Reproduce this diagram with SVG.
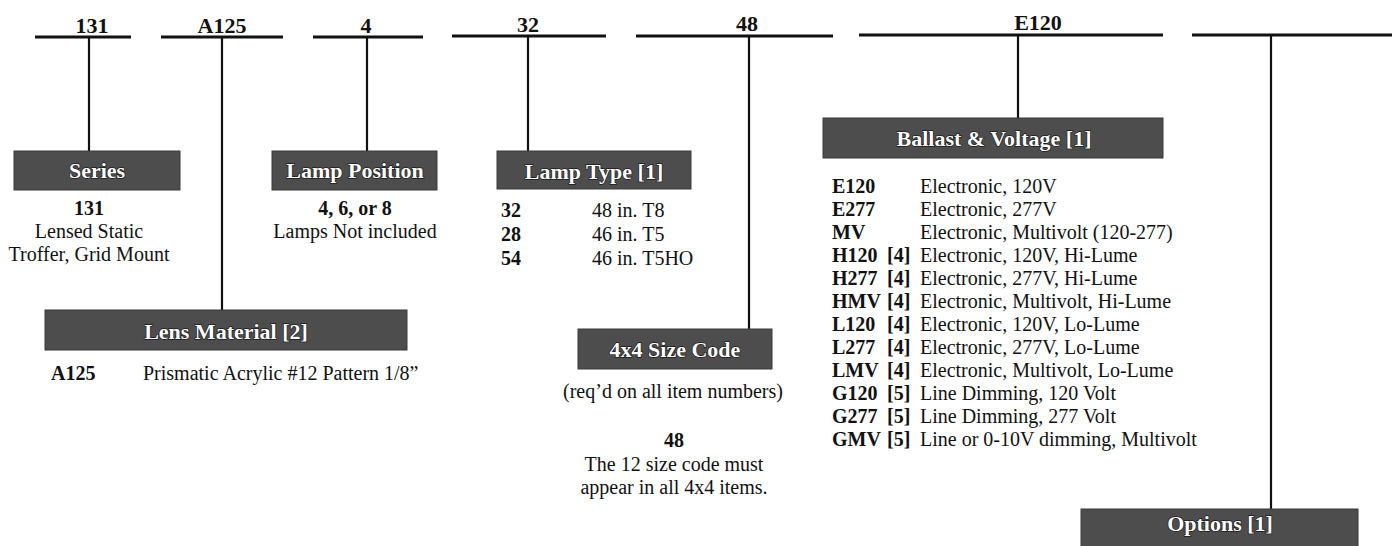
<svg xmlns="http://www.w3.org/2000/svg" width="1392" height="546" viewBox="0 0 1392 546">
<style>
text{font-family:"Liberation Serif","Times New Roman",serif;fill:#111}
.top{font-size:22px;font-weight:bold;text-anchor:middle}
.b{font-weight:bold}
.body{font-size:20px}
.c{text-anchor:middle}
.hd{font-size:22px;font-weight:bold;fill:#fff;text-anchor:middle;stroke:#1a1a1a;stroke-width:1.4px;paint-order:stroke}
.box{fill:#4d4d4d;stroke:#3a3a3a;stroke-width:1}
.h{stroke:#111;stroke-width:3}
.v{stroke:#111;stroke-width:2.2}
</style>
<rect width="1392" height="546" fill="#fff"/>
<g id="connectors">
<line class="h" x1="35" y1="37" x2="131" y2="37"/>
<line class="v" x1="89" y1="37" x2="89" y2="151"/>
<line class="h" x1="161" y1="37" x2="283" y2="37"/>
<line class="v" x1="222" y1="37" x2="222" y2="310"/>
<line class="h" x1="313" y1="37" x2="423" y2="37"/>
<line class="v" x1="367" y1="37" x2="367" y2="151"/>
<line class="h" x1="452" y1="36" x2="606" y2="36"/>
<line class="v" x1="528" y1="36" x2="528" y2="151"/>
<line class="h" x1="636" y1="36" x2="833" y2="36"/>
<line class="v" x1="749" y1="36" x2="749" y2="329"/>
<line class="h" x1="859" y1="35" x2="1163" y2="35"/>
<line class="v" x1="1018" y1="35" x2="1018" y2="118"/>
<line class="h" x1="1192" y1="35" x2="1392" y2="35"/>
<line class="v" x1="1271" y1="35" x2="1271" y2="509"/>
</g>
<g id="codes">
<text class="top" x="92" y="33">131</text>
<text class="top" x="222" y="33">A125</text>
<text class="top" x="366" y="33">4</text>
<text class="top" x="528" y="32">32</text>
<text class="top" x="747" y="31">48</text>
<text class="top" x="1038" y="30">E120</text>
</g>
<g id="series">
<rect class="box" x="14" y="151" width="166" height="39"/>
<text class="hd" x="97" y="178">Series</text>
<text class="body b c" x="89" y="215">131</text>
<text class="body c" x="89" y="238">Lensed Static</text>
<text class="body c" x="89" y="261">Troffer, Grid Mount</text>
</g>
<g id="lens-material">
<rect class="box" x="45" y="310" width="362" height="40"/>
<text class="hd" x="226" y="339">Lens Material [2]</text>
<text class="body b" x="51" y="380">A125</text>
<text class="body" x="143" y="380">Prismatic Acrylic #12 Pattern 1/8”</text>
</g>
<g id="lamp-position">
<rect class="box" x="272" y="151" width="165" height="39"/>
<text class="hd" x="355" y="178">Lamp Position</text>
<text class="body b c" x="355" y="215">4, 6, or 8</text>
<text class="body c" x="355" y="238">Lamps Not included</text>
</g>
<g id="lamp-type">
<rect class="box" x="497" y="151" width="194" height="38"/>
<text class="hd" x="594" y="179">Lamp Type [1]</text>
<text class="body b" x="501" y="217">32</text>
<text class="body" x="592" y="217">48 in. T8</text>
<text class="body b" x="501" y="241">28</text>
<text class="body" x="592" y="241">46 in. T5</text>
<text class="body b" x="501" y="265">54</text>
<text class="body" x="592" y="265">46 in. T5HO</text>
</g>
<g id="size-code">
<rect class="box" x="578" y="329" width="194" height="40"/>
<text class="hd" x="675" y="357">4x4 Size Code</text>
<text class="body c" x="673" y="398">(req’d on all item numbers)</text>
<text class="body b c" x="674" y="447">48</text>
<text class="body c" x="674" y="471">The 12 size code must</text>
<text class="body c" x="674" y="494">appear in all 4x4 items.</text>
</g>
<g id="ballast-voltage">
<rect class="box" x="823" y="118" width="340" height="40"/>
<text class="hd" x="994" y="146">Ballast &amp; Voltage [1]</text>
<g class="body">
<text class="b" x="832" y="193">E120</text><text x="920" y="193">Electronic, 120V</text>
<text class="b" x="832" y="216">E277</text><text x="920" y="216">Electronic, 277V</text>
<text class="b" x="832" y="239">MV</text><text x="920" y="239">Electronic, Multivolt (120-277)</text>
<text class="b" x="832" y="262">H120</text><text class="b" x="887" y="262">[4]</text><text x="920" y="262">Electronic, 120V, Hi-Lume</text>
<text class="b" x="832" y="285">H277</text><text class="b" x="887" y="285">[4]</text><text x="920" y="285">Electronic, 277V, Hi-Lume</text>
<text class="b" x="832" y="308">HMV</text><text class="b" x="887" y="308">[4]</text><text x="920" y="308">Electronic, Multivolt, Hi-Lume</text>
<text class="b" x="832" y="331">L120</text><text class="b" x="887" y="331">[4]</text><text x="920" y="331">Electronic, 120V, Lo-Lume</text>
<text class="b" x="832" y="354">L277</text><text class="b" x="887" y="354">[4]</text><text x="920" y="354">Electronic, 277V, Lo-Lume</text>
<text class="b" x="832" y="377">LMV</text><text class="b" x="887" y="377">[4]</text><text x="920" y="377">Electronic, Multivolt, Lo-Lume</text>
<text class="b" x="832" y="400">G120</text><text class="b" x="887" y="400">[5]</text><text x="920" y="400">Line Dimming, 120 Volt</text>
<text class="b" x="832" y="423">G277</text><text class="b" x="887" y="423">[5]</text><text x="920" y="423">Line Dimming, 277 Volt</text>
<text class="b" x="832" y="446">GMV</text><text class="b" x="887" y="446">[5]</text><text x="920" y="446">Line or 0-10V dimming, Multivolt</text>
</g>
</g>
<g id="options">
<rect class="box" x="1081" y="509" width="277" height="40"/>
<text class="hd" x="1220" y="531">Options [1]</text>
</g>
</svg>
